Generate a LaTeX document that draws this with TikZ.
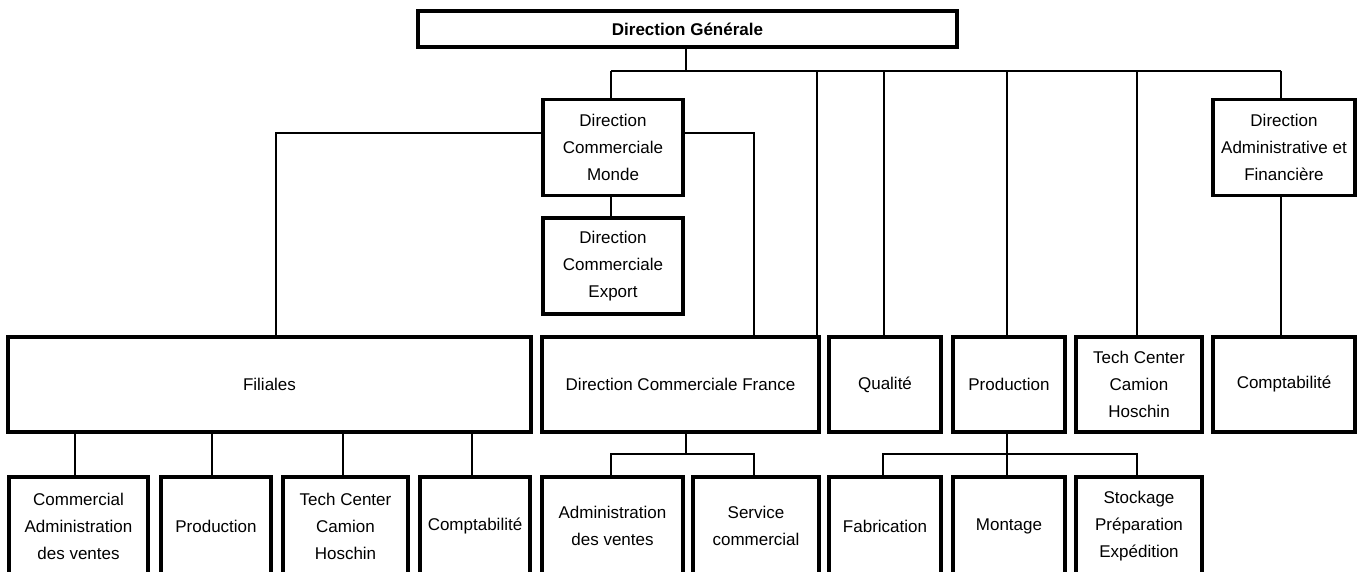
\documentclass[tikz,border=0pt]{standalone}
\usepackage{fontspec}
\setmainfont{Liberation Sans}
\usetikzlibrary{calc}
\tikzset{
  box/.style={draw=black, line width=3.5pt, rectangle, align=center, inner sep=0pt,
    font=\fontsize{17}{27}\selectfont, fill=white},
  link/.style={draw=black, line width=1.6pt},
}
\begin{document}
\begin{tikzpicture}[x=1pt,y=-1pt]
\useasboundingbox (0,0) rectangle (1358,572);
\clip (0,0) rectangle (1358,572);
% top
\node[box, minimum width=539pt, minimum height=36pt, font=\fontsize{17}{27}\selectfont\bfseries] (dg) at (687.5,29) {Direction Générale};
\node[box, minimum width=140pt, minimum height=96pt] (dcm) at (613,147.5) {Direction\\Commerciale\\Monde};
\node[box, minimum width=140pt, minimum height=96pt] (dce) at (613,266) {Direction\\Commerciale\\Export};
\node[box, minimum width=142pt, minimum height=96pt] (daf) at (1284,147.5) {Direction\\Administrative et\\Financière};
% row 2
\node[box, minimum width=523pt, minimum height=95pt] (fil) at (269.5,384.5) {Filiales};
\node[box, minimum width=277pt, minimum height=95pt] (dcf) at (680.5,384.5) {Direction Commerciale France};
\node[box, minimum width=112pt, minimum height=95pt] (qual) at (885,384.5) {Qualité};
\node[box, minimum width=112pt, minimum height=95pt] (prod) at (1009,384.5) {Production};
\node[box, minimum width=126pt, minimum height=95pt] (tech) at (1139,384.5) {Tech Center\\Camion\\Hoschin};
\node[box, minimum width=142pt, minimum height=95pt] (comp) at (1284,384.5) {Comptabilité};
% row 3
\node[box, minimum width=139pt, minimum height=98pt] (fcom) at (78.5,526) {Commercial\\Administration\\des ventes};
\node[box, minimum width=110pt, minimum height=98pt] (fprod) at (216,526) {Production};
\node[box, minimum width=125pt, minimum height=98pt] (ftech) at (345.5,526) {Tech Center\\Camion\\Hoschin};
\node[box, minimum width=110pt, minimum height=98pt] (fcomp) at (475,526) {Comptabilité};
\node[box, minimum width=141pt, minimum height=98pt] (adv) at (612.5,526) {Administration\\des ventes};
\node[box, minimum width=126pt, minimum height=98pt] (serv) at (756,526) {Service\\commercial};
\node[box, minimum width=112pt, minimum height=98pt] (fab) at (885,526) {Fabrication};
\node[box, minimum width=112pt, minimum height=98pt] (mont) at (1009,526) {Montage};
\node[box, minimum width=126pt, minimum height=98pt] (stock) at (1139,526) {Stockage\\Préparation\\Expédition};
% connectors
\coordinate (busL) at (611,71);
\coordinate (busR) at (1281,71);
\draw[link] (busL) -- (busR);
\draw[link] (dg.south -| 686,0) -- (busL -| 686,0);
\draw[link] (busL) -- (busL |- dcm.north);
\draw[link] (dcm.south -| busL) -- (dce.north -| busL);
\draw[link] (dcm.west |- 0,133) -| (fil.north -| 276,0);
\draw[link] (dcm.east |- 0,133) -| (dcf.north -| 754,0);
\draw[link] (busL -| 817,0) -- (dcf.north -| 817,0);
\draw[link] (busL -| 884,0) -- (qual.north -| 884,0);
\draw[link] (busL -| 1007,0) -- (prod.north -| 1007,0);
\draw[link] (busL -| 1137,0) -- (tech.north -| 1137,0);
\draw[link] (busR) -- (daf.north -| busR);
\draw[link] (daf.south -| busR) -- (comp.north -| busR);
% filiales
\draw[link] (fil.south -| 75,0) -- (fcom.north -| 75,0);
\draw[link] (fil.south -| 212,0) -- (fprod.north -| 212,0);
\draw[link] (fil.south -| 343,0) -- (ftech.north -| 343,0);
\draw[link] (fil.south -| 472,0) -- (fcomp.north -| 472,0);
% DCF
\coordinate (dcfbus) at (686,454);
\draw[link] (dcf.south -| dcfbus) -- (dcfbus);
\draw[link] (adv.north -| 611,0) |- (dcfbus) -| (serv.north -| 754,0);
% production
\coordinate (pbus) at (1007,454);
\draw[link] (prod.south -| pbus) -- (mont.north -| pbus);
\draw[link] (fab.north -| 883,0) |- (pbus) -| (stock.north -| 1137,0);
\end{tikzpicture}
\end{document}
